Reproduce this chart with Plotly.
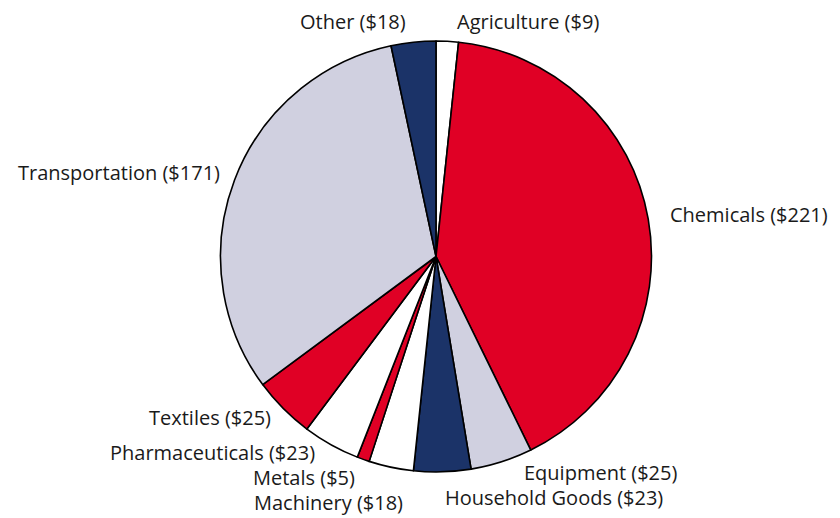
import math
import plotly.graph_objects as go

categories = ["Agriculture", "Chemicals", "Equipment", "Household Goods", "Machinery",
              "Metals", "Pharmaceuticals", "Textiles", "Transportation", "Other"]
values = [9, 221, 25, 23, 18, 5, 23, 25, 171, 18]
colors = ["#FFFFFF", "#E00025", "#D0D0E0", "#1B3368", "#FFFFFF",
          "#E00025", "#FFFFFF", "#E00025", "#D0D0E0", "#1B3368"]

labels = [f"{c} (${v})" for c, v in zip(categories, values)]

# layout / style (pixels); page offset of the rendered figure compensated
W, H = 840, 518
PAGE_OFF = 8
CX, CY, R = 436 - PAGE_OFF, 256.5 - PAGE_OFF, 215.5
GAP = 14
HALF_TEXT = 11
# per-label nudges (dx right, dy down) to de-crowd small slices
nudges = [(7, 5), (6, 0), (16, -13), (0, 1), (17, 11),
          (-1, -5), (-7, -14), (0, -9), (1, 1), (-4, 4)]

fig = go.Figure(go.Pie(
    labels=labels,
    values=values,
    sort=False,
    direction="clockwise",
    rotation=0,
    marker=dict(colors=colors, line=dict(color="#000000", width=1.6)),
    textinfo="none",
    hoverinfo="label+percent",
    showlegend=False,
    domain=dict(x=[(CX - R) / W, (CX + R) / W],
                y=[(H - CY - R) / H, (H - CY + R) / H]),
))

total = sum(values)
annotations = []
cum = 0
for lab, v, (dx, dy) in zip(labels, values, nudges):
    mid = (cum + v / 2) / total * 2 * math.pi
    cum += v
    s, c = math.sin(mid), math.cos(mid)
    px = CX + (R + GAP) * s + dx
    py = CY - (R + GAP) * c - c * HALF_TEXT + dy
    annotations.append(dict(
        x=px / W, y=1 - py / H, xref="paper", yref="paper",
        text=lab, showarrow=False,
        xanchor="left" if s >= 0 else "right", yanchor="middle",
        font=dict(family="Open Sans", size=20, color="#1a1a1a"),
    ))

fig.update_layout(
    width=W, height=H,
    margin=dict(l=0, r=0, t=0, b=0),
    paper_bgcolor="white",
    plot_bgcolor="white",
    annotations=annotations,
)

fig.write_html("out.html")
